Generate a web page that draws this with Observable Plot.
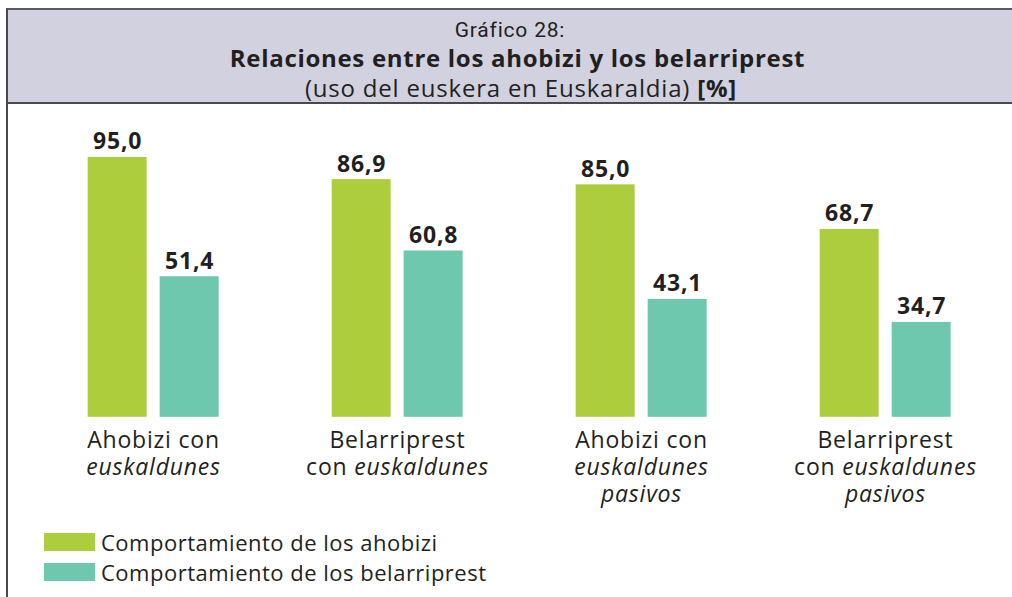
<!DOCTYPE html>
<html>
<head>
<meta charset="utf-8">
<script src="https://cdn.jsdelivr.net/npm/d3@7"></script>
<script src="https://cdn.jsdelivr.net/npm/@observablehq/plot@0.6"></script>
<style>
  html, body { margin: 0; padding: 0; background: #fff; width: 1012px; height: 597px; overflow: hidden; }
  #wrap { position: relative; width: 1012px; height: 597px; }
  #header { position: absolute; left: 6px; top: 8px; width: 1006px; height: 96px; box-sizing: border-box;
    background: #d2d1df; border-top: 2px solid #5a5a5e; border-left: 2px solid #4a4a4e; border-bottom: 2px solid #4a4a4e;
    font-family: "Open Sans", sans-serif; color: #231f20; text-align: center; }
  #header .l1 { position: absolute; left: 0; right: 0; top: 8px; font-family: Roboto, sans-serif; font-size: 21px; line-height: 24px; letter-spacing: 0.8px; }
  #header .l2 { position: absolute; left: 15px; right: 0; top: 34px; font-size: 24px; line-height: 28px; font-weight: 700; letter-spacing: 0.7px; }
  #header .l3 { position: absolute; left: 22px; right: 0; top: 64px; font-size: 24px; line-height: 28px; letter-spacing: 0.8px; }
  #leftline { position: absolute; left: 6px; top: 104px; width: 2px; height: 493px; background: #4a4a4e; }
  #chart { position: absolute; left: 0; top: 106px; }
  #legend { position: absolute; left: 44px; top: 527px; font-family: "Open Sans", sans-serif; font-size: 22px; letter-spacing: 0.5px; color: #231f20; }
  #legend .item { display: flex; align-items: center; height: 30px; }
  #legend .sw { width: 51px; height: 18px; margin-right: 6px; }
</style>
</head>
<body>
<div id="wrap">
  <div id="header">
    <div class="l1">Gráfico 28:</div>
    <div class="l2">Relaciones entre los ahobizi y los belarriprest</div>
    <div class="l3">(uso del euskera en Euskaraldia) <b>[%]</b></div>
  </div>
  <div id="leftline"></div>
  <div id="chart"></div>
  <div id="legend"></div>
</div>
<script>
// Data
const categories = ["A", "B", "C", "D"];
const categoryLabels = [
  "Ahobizi con\n_euskaldunes_",
  "Belarriprest\ncon _euskaldunes_",
  "Ahobizi con\n_euskaldunes_\n_pasivos_",
  "Belarriprest\ncon _euskaldunes_\n_pasivos_"
];
const seriesNames = ["Comportamiento de los ahobizi", "Comportamiento de los belarriprest"];
const ahobiziValues = [95.0, 86.9, 85.0, 68.7];
const belarriprestValues = [51.4, 60.8, 43.1, 34.7];
const seriesColors = ["#aecd3c", "#6ec8ae"];

const rows = [];
categories.forEach((c, i) => {
  rows.push({cat: c, series: seriesNames[0], value: ahobiziValues[i]});
  rows.push({cat: c, series: seriesNames[1], value: belarriprestValues[i]});
});
const labelOf = new Map(categories.map((c, i) => [c, categoryLabels[i]]));
const fmt = v => v.toFixed(1).replace(".", ",");

const chart = Plot.plot({
  width: 1012,
  height: 414,
  marginTop: 37.3,
  marginBottom: 103.2,
  marginLeft: 30.35,
  marginRight: 4.35,
  style: {fontFamily: "'Open Sans', sans-serif", fontSize: "23px", color: "#231f20", background: "transparent", overflow: "visible"},
  fx: {domain: categories, padding: 0, label: null},
  x: {domain: seriesNames, paddingInner: 0.178, paddingOuter: 0.762, axis: null},
  y: {domain: [0, 100], axis: null},
  color: {domain: seriesNames, range: seriesColors},
  marks: [
    Plot.barY(rows, {fx: "cat", x: "series", y: "value", fill: "series"}),
    Plot.text(rows, {fx: "cat", x: "series", y: "value", text: d => fmt(d.value), dy: -8, lineAnchor: "bottom",
      fontWeight: 700, fontSize: 23, fill: "#231f20", className: "vlabel"}),
    Plot.axisFx({anchor: "bottom", tickSize: 0, tickPadding: 12, tickFormat: c => labelOf.get(c), lineHeight: 1.17,
      fontSize: 23, fill: "#231f20", label: null})
  ]
});

// Turn _text_ into italic tspans
d3.select(chart).selectAll("text").each(function() {
  const textEl = this;
  const targets = textEl.querySelectorAll("tspan").length ? Array.from(textEl.querySelectorAll("tspan")) : [textEl];
  targets.forEach(el => {
    const s = el.textContent;
    if (!s.includes("_")) return;
    el.textContent = "";
    const parts = s.split(/(_[^_]+_)/);
    parts.forEach(p => {
      if (!p) return;
      const t = document.createElementNS("http://www.w3.org/2000/svg", "tspan");
      if (p.startsWith("_") && p.endsWith("_")) {
        t.textContent = p.slice(1, -1);
        t.setAttribute("font-style", "italic");
      } else {
        t.textContent = p;
      }
      el.appendChild(t);
    });
  });
});
d3.select(chart).selectAll("text").style("letter-spacing", "0.8px");
document.getElementById("chart").appendChild(chart);

// Legend
const legend = document.getElementById("legend");
seriesNames.forEach((n, i) => {
  const item = document.createElement("div");
  item.className = "item";
  const sw = document.createElement("div");
  sw.className = "sw";
  sw.style.background = seriesColors[i];
  const label = document.createElement("span");
  label.textContent = n;
  item.appendChild(sw);
  item.appendChild(label);
  legend.appendChild(item);
});
</script>
</body>
</html>
